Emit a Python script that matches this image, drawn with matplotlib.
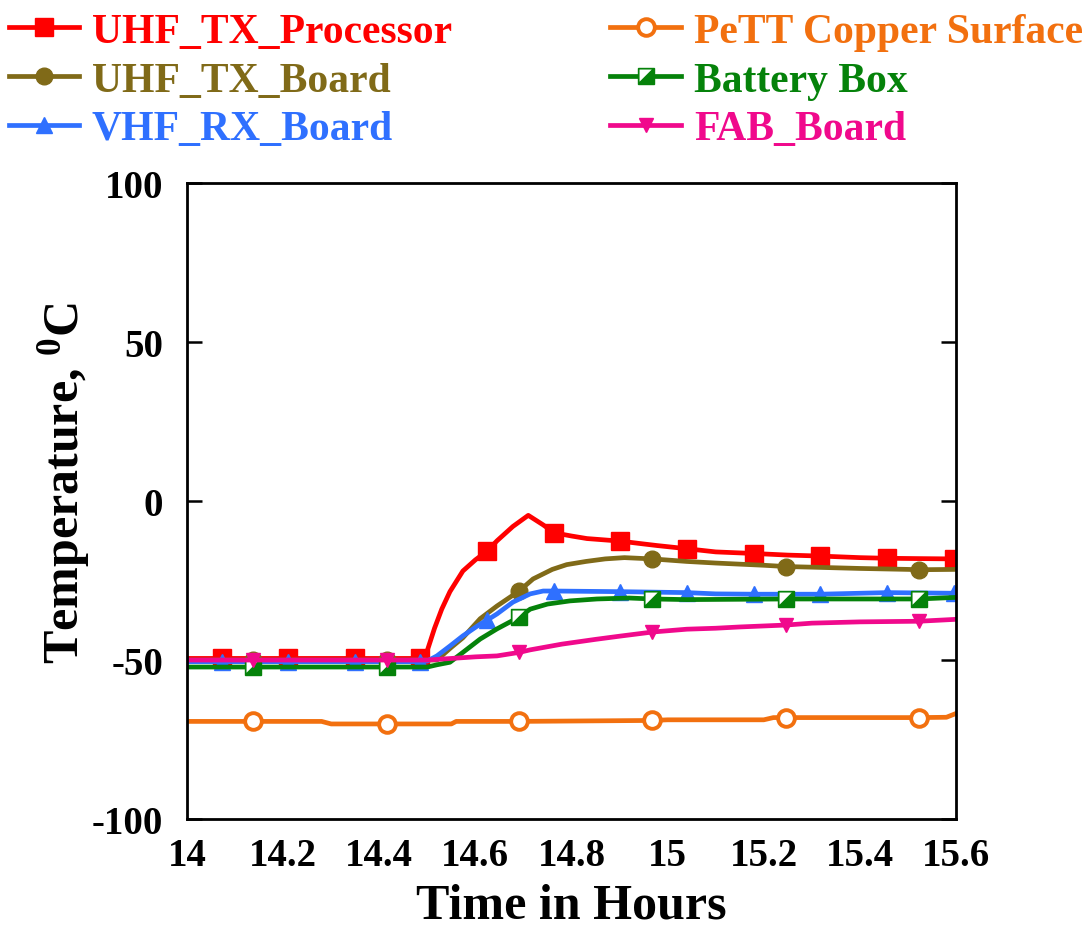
import numpy as np
import matplotlib
matplotlib.use("Agg")
import matplotlib.pyplot as plt
from matplotlib.path import Path
from matplotlib.legend_handler import HandlerTuple

# ---------------- data ----------------
proc_t = [14.0, 14.072, 14.21, 14.35, 14.485, 14.5, 14.515, 14.53, 14.547, 14.574, 14.6,
          14.624, 14.645, 14.678, 14.71, 14.741, 14.764, 14.8, 14.832, 14.901, 14.95,
          14.978, 15.04, 15.1, 15.18, 15.25, 15.317, 15.4, 15.456, 15.52, 15.596, 15.6]
proc_v = [-49.5, -49.5, -49.5, -49.5, -49.5, -47.0, -40.0, -34.0, -28.5, -22.0, -18.5,
          -15.8, -12.5, -8.0, -4.5, -7.5, -10.0, -11.0, -11.8, -12.6, -13.5,
          -14.0, -15.0, -16.0, -16.5, -17.0, -17.3, -17.8, -18.0, -18.1, -18.2, -18.2]

txb_t = [14.0, 14.137, 14.416, 14.52, 14.55, 14.574, 14.61, 14.645, 14.691, 14.72, 14.76,
         14.79, 14.83, 14.87, 14.91, 14.968, 15.04, 15.1, 15.2, 15.246, 15.3, 15.4, 15.5,
         15.523, 15.6]
txb_v = [-50.0, -50.0, -50.0, -50.0, -46.0, -43.0, -37.0, -33.0, -28.3, -24.5, -21.5,
         -20.0, -19.0, -18.2, -17.8, -18.2, -19.0, -19.5, -20.2, -20.6, -20.8, -21.2, -21.5,
         -21.6, -21.5]

rxb_t = [14.0, 14.072, 14.21, 14.35, 14.485, 14.5, 14.52, 14.547, 14.574, 14.61, 14.624,
         14.645, 14.678, 14.714, 14.741, 14.764, 14.901, 15.04, 15.1, 15.18, 15.317, 15.4,
         15.456, 15.596, 15.6]
rxb_v = [-50.5, -50.5, -50.5, -50.5, -50.5, -50.3, -48.7, -45.6, -42.4, -38.7, -37.5,
         -35.5, -31.8, -29.2, -28.3, -28.3, -28.5, -28.8, -29.2, -29.3, -29.3, -29.0,
         -28.8, -29.0, -29.0]

pett_t = [14.0, 14.137, 14.28, 14.3, 14.416, 14.55, 14.56, 14.691, 14.968, 15.0, 15.2,
          15.22, 15.246, 15.523, 15.58, 15.6]
pett_v = [-69.3, -69.3, -69.3, -70.1, -70.1, -70.1, -69.3, -69.3, -69.0, -68.8, -68.8,
          -68.1, -68.1, -68.1, -68.0, -66.8]

batt_t = [14.0, 14.137, 14.416, 14.5, 14.52, 14.547, 14.574, 14.61, 14.645, 14.691, 14.714,
          14.75, 14.797, 14.853, 14.92, 14.968, 15.04, 15.246, 15.523, 15.6]
batt_v = [-52.2, -52.2, -52.2, -52.2, -51.5, -50.7, -47.6, -43.4, -40.2, -36.5, -34.0,
          -32.4, -31.4, -30.8, -30.5, -30.8, -31.0, -30.8, -30.8, -30.3]

fab_t = [14.0, 14.137, 14.416, 14.5, 14.55, 14.6, 14.645, 14.691, 14.714, 14.78, 14.85,
         14.9, 14.968, 15.04, 15.1, 15.15, 15.246, 15.3, 15.4, 15.523, 15.6]
fab_v = [-50.0, -50.0, -50.0, -50.0, -49.5, -49.0, -48.7, -47.6, -46.8, -45.0, -43.5,
         -42.5, -41.2, -40.3, -40.0, -39.6, -39.0, -38.4, -38.0, -37.8, -37.2]

# sample times that carry a marker
mark_a = [14.072, 14.21, 14.35, 14.485, 14.624, 14.764, 14.901, 15.04, 15.18, 15.317, 15.456, 15.596]
mark_b = [14.137, 14.416, 14.691, 14.968, 15.246, 15.523]

labels = ["UHF_TX_Processor", "UHF_TX_Board", "VHF_RX_Board",
          "PeTT Copper Surface", "Battery Box", "FAB_Board"]
x_ticks = [14, 14.2, 14.4, 14.6, 14.8, 15, 15.2, 15.4, 15.6]
x_ticklabels = ["14", "14.2", "14.4", "14.6", "14.8", "15", "15.2", "15.4", "15.6"]
y_ticks = [-100, -50, 0, 50, 100]
y_ticklabels = ["-100", "-50", "0", "50", "100"]

# ---------------- style ----------------
plt.rcParams['font.family'] = ['Liberation Serif', 'DejaVu Serif']
plt.rcParams['font.weight'] = 'bold'
plt.rcParams['axes.unicode_minus'] = False
plt.rcParams['mathtext.fontset'] = 'custom'
plt.rcParams['mathtext.rm'] = 'Liberation Serif:bold'
plt.rcParams['mathtext.it'] = 'Liberation Serif:bold'
plt.rcParams['mathtext.bf'] = 'Liberation Serif:bold'

C_RED = '#FF0000'
C_BROWN = '#806A18'
C_BLUE = '#2F70FF'
C_ORANGE = '#F2700F'
C_GREEN = '#05820A'
C_PINK = '#F0098C'

def idx(t, marks):
    t = np.asarray(t)
    return [int(np.argmin(np.abs(t - m))) for m in marks]

fig = plt.figure(figsize=(10.91, 9.29), dpi=100)
ax = fig.add_axes([0.1714, 0.1173, 0.7049, 0.6846])

lw = 3.4
h1, = ax.plot(proc_t, proc_v, color=C_RED, lw=lw, marker='s', ms=13.5,
              markevery=idx(proc_t, mark_a), mec=C_RED, mfc=C_RED)
h2, = ax.plot(txb_t, txb_v, color=C_BROWN, lw=lw, marker='o', ms=12,
              markevery=idx(txb_t, mark_b), mec=C_BROWN, mfc=C_BROWN)
h3, = ax.plot(rxb_t, rxb_v, color=C_BLUE, lw=lw, marker='^', ms=11,
              markevery=idx(rxb_t, mark_a), mec=C_BLUE, mfc=C_BLUE)
h4, = ax.plot(pett_t, pett_v, color=C_ORANGE, lw=lw, marker='o', ms=12, mew=2.8,
              markevery=idx(pett_t, mark_b), mec=C_ORANGE, mfc='white')
h5, = ax.plot(batt_t, batt_v, color=C_GREEN, lw=lw, marker='s', ms=12,
              markevery=idx(batt_t, mark_b), mec=C_GREEN, mfc=C_GREEN)
tri = Path([(-0.6, 0.6), (0.45, 0.6), (-0.6, -0.45), (-0.6, 0.6)],
           [Path.MOVETO, Path.LINETO, Path.LINETO, Path.CLOSEPOLY])
h5b, = ax.plot(batt_t, batt_v, linestyle='none', marker=tri, ms=10, mew=0,
               markevery=idx(batt_t, mark_b), mfc='white')
h6, = ax.plot(fab_t, fab_v, color=C_PINK, lw=lw, marker='v', ms=10,
              markevery=idx(fab_t, mark_b), mec=C_PINK, mfc=C_PINK)

ax.set_xlim(14, 15.6)
ax.set_ylim(-100, 100)
ax.set_xticks(x_ticks)
ax.set_xticklabels(x_ticklabels)
ax.set_yticks(y_ticks)
ax.set_yticklabels(y_ticklabels)
ax.tick_params(axis='x', length=0, pad=13, labelsize=28)
ax.tick_params(axis='y', direction='in', length=11, width=1.8, right=True,
               pad=17, labelsize=28)
for lab in ax.get_xticklabels() + ax.get_yticklabels():
    lab.set_fontweight('bold')
for sp in ax.spines.values():
    sp.set_linewidth(2.0)

ax.set_xlabel("Time in Hours", fontsize=36, fontweight='bold', labelpad=6)
ax.set_ylabel(r"Temperature, $^{\mathrm{0}}$C", fontsize=36, fontweight='bold', labelpad=4)
ax.yaxis.set_label_coords(-0.124, 0.53)

handles = [h1, h2, h3, h4, (h5, h5b), h6]
colors = [C_RED, C_BROWN, C_BLUE, C_ORANGE, C_GREEN, C_PINK]
leg = fig.legend(handles, labels, ncol=2, loc='upper left',
                 bbox_to_anchor=(-0.015, 1.012), frameon=False,
                 prop={'family': 'Liberation Serif', 'weight': 'bold', 'size': 30},
                 handlelength=1.7, handletextpad=0.3, columnspacing=3.8,
                 labelspacing=0.25, borderaxespad=0.2,
                 handler_map={tuple: HandlerTuple(ndivide=1)})
for txt, c in zip(leg.get_texts(), colors):
    txt.set_color(c)

fig.savefig("out.png", dpi=100)
